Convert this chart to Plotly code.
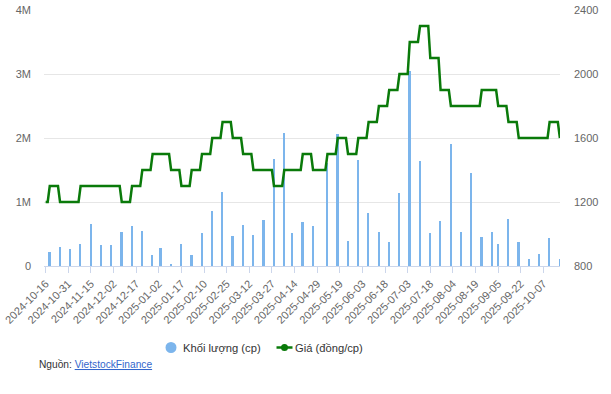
import pandas as pd
import plotly.graph_objects as go

# ---- data -------------------------------------------------------------
# market holidays inside the period (no trading)
holidays = ["2025-01-01", "2025-01-27", "2025-01-28", "2025-01-29", "2025-01-30",
            "2025-01-31", "2025-04-07", "2025-04-30", "2025-05-01", "2025-05-02",
            "2025-09-01", "2025-09-02"]
first_day = "2024-10-16"
last_day = "2025-10-17"
start_price = 1200  # price shown before the first trade

trade_dates = ["2024-10-18", "2024-10-25", "2024-11-01", "2024-11-08", "2024-11-15",
               "2024-11-22", "2024-11-29", "2024-12-06", "2024-12-13", "2024-12-20",
               "2024-12-27", "2025-01-03", "2025-01-10", "2025-01-17", "2025-01-24",
               "2025-02-07", "2025-02-14", "2025-02-21", "2025-02-28", "2025-03-07",
               "2025-03-14", "2025-03-21", "2025-03-28", "2025-04-04", "2025-04-11",
               "2025-04-18", "2025-04-25", "2025-05-09", "2025-05-16", "2025-05-23",
               "2025-05-30", "2025-06-06", "2025-06-13", "2025-06-20", "2025-06-27",
               "2025-07-04", "2025-07-11", "2025-07-18", "2025-07-25", "2025-08-01",
               "2025-08-08", "2025-08-15", "2025-08-22", "2025-08-29", "2025-09-05",
               "2025-09-12", "2025-09-19", "2025-09-26", "2025-10-03", "2025-10-10",
               "2025-10-17"]
trade_price = [1300, 1200, 1200, 1300, 1300, 1300, 1300, 1200, 1300, 1400, 1500,
               1500, 1400, 1300, 1400,
               1500, 1600, 1700, 1600,
               1500, 1400, 1400, 1300,
               1400, 1400, 1500, 1400,
               1500, 1600, 1500, 1600,
               1700, 1800, 1900, 2000,
               2200, 2300, 2100, 1900,
               1800, 1800, 1800, 1900, 1900,
               1800, 1700, 1600, 1600,
               1600, 1700, 1600]
trade_volume = [214000, 297000, 266000, 344000, 656000, 323000, 323000, 526000, 620000,
                547000, 167000,
                281000, 26000, 339000, 167000,
                510000, 859000, 1156000, 464000,
                635000, 479000, 719000, 1667000,
                2073000, 510000, 688000, 620000,
                1604000, 2057000, 390000, 1651000,
                823000, 526000, 370000, 1146000,
                3050000, 1640000, 510000, 703000,
                1906000, 531000, 1453000, 453000, 531000,
                344000, 734000, 375000, 109000,
                188000, 438000, 109000]

tick_labels = ["2024-10-16", "2024-10-31", "2024-11-15", "2024-12-02", "2024-12-17",
               "2025-01-02", "2025-01-17", "2025-02-10", "2025-02-25", "2025-03-12",
               "2025-03-27", "2025-04-14", "2025-04-29", "2025-05-19", "2025-06-03",
               "2025-06-18", "2025-07-03", "2025-07-18", "2025-08-04", "2025-08-19",
               "2025-09-05", "2025-09-22", "2025-10-07"]
vol_ticks = [0, 1000000, 2000000, 3000000, 4000000]
vol_tick_text = ["0", "1M", "2M", "3M", "4M"]
price_ticks = [800, 1200, 1600, 2000, 2400]
vol_name = "Khối lượng (cp)"
price_name = "Giá (đồng/cp)"

# ---- categories (trading days) and daily price --------------------------
days = pd.bdate_range(first_day, last_day, freq="C", holidays=holidays)
categories = [d.strftime("%Y-%m-%d") for d in days]
price_by_trade = dict(zip(trade_dates, trade_price))
daily_price = []
cur = start_price
for d in categories:
    cur = price_by_trade.get(d, cur)
    daily_price.append(cur)

FONT = "Liberation Sans, Arial, sans-serif"
BAR_COLOR = "#7cb5ec"
LINE_COLOR = "#0a7a0a"

# plot area (page px): x 44..560, y 10..266
W, H = 611, 394
L, T, PW, PH = 44, 10, 516, 256


def px(xp):  # page x -> paper
    return (xp - L) / PW


def py(yp):  # page y -> paper
    return (T + PH - yp) / PH


fig = go.Figure()
fig.add_trace(go.Bar(x=trade_dates, y=trade_volume, name=vol_name,
                     marker=dict(color=BAR_COLOR, line=dict(width=0)),
                     width=0.85, yaxis="y"))
fig.add_trace(go.Scatter(x=categories, y=daily_price, name=price_name,
                         mode="lines", line=dict(color=LINE_COLOR, width=2.5),
                         yaxis="y2"))

shapes = [
    dict(type="circle", xref="paper", yref="paper", x0=px(165.5), x1=px(176.5),
         y0=py(353), y1=py(342), fillcolor=BAR_COLOR, line=dict(width=0)),
    dict(type="line", xref="paper", yref="paper", x0=px(276.5), x1=px(292.5),
         y0=py(347.5), y1=py(347.5), line=dict(color=LINE_COLOR, width=2.5)),
    dict(type="circle", xref="paper", yref="paper", x0=px(281), x1=px(288),
         y0=py(351), y1=py(344), fillcolor=LINE_COLOR, line=dict(width=0)),
]
annotations = [
    dict(xref="paper", yref="paper", x=px(180.5), y=py(347.5), xanchor="left",
         yanchor="middle", showarrow=False, text=vol_name,
         font=dict(size=11.2, color="#333333", family=FONT)),
    dict(xref="paper", yref="paper", x=px(292.5), y=py(347.5), xanchor="left",
         yanchor="middle", showarrow=False, text=price_name,
         font=dict(size=11.2, color="#333333", family=FONT)),
    dict(xref="paper", yref="paper", x=px(37), y=py(364.5),
         xanchor="left", yanchor="middle", showarrow=False,
         text='<span style="color:#333333">Nguồn: </span>'
              '<a href="https://finance.vietstock.vn" '
              'style="color:#3366cc;text-decoration:underline">VietstockFinance</a>',
         font=dict(size=10.2, family=FONT)),
]

fig.update_layout(
    template="none",
    width=W, height=H,
    margin=dict(l=L, r=W - L - PW, t=T, b=H - T - PH, autoexpand=False),
    paper_bgcolor="#ffffff", plot_bgcolor="#ffffff",
    font=dict(family=FONT, size=11, color="#666666"),
    showlegend=False,
    bargap=0,
    xaxis=dict(type="category", categoryorder="array", categoryarray=categories,
               range=[-0.8, 250.05], tickmode="array", tickvals=tick_labels,
               ticktext=tick_labels, tickangle=-45, showgrid=False, automargin=False,
               showline=True, linecolor="#ccd6eb", linewidth=1,
               ticks="outside", ticklen=6, tickcolor="#ccd6eb",
               tickfont=dict(size=11, color="#666666"), zeroline=False),
    yaxis=dict(range=[0, 4000000], tickvals=vol_ticks, ticktext=vol_tick_text,
               showgrid=True, gridcolor="#e6e6e6", gridwidth=1, zeroline=False,
               showline=False, ticks="", automargin=False,
               tickfont=dict(size=11, color="#666666"), ticklabelstandoff=12),
    yaxis2=dict(range=[800, 2400], tickvals=price_ticks, overlaying="y", side="right",
                showgrid=False, zeroline=False, showline=False, ticks="", automargin=False,
                tickfont=dict(size=11, color="#666666"), ticklabelstandoff=13),
    shapes=shapes,
    annotations=annotations,
)

# remove the browser's default 8px body margin so the figure sits at the page origin
fig.write_html("out.html", config={"displayModeBar": False},
               post_script="document.body.style.margin='0';document.body.style.overflow='hidden';")
